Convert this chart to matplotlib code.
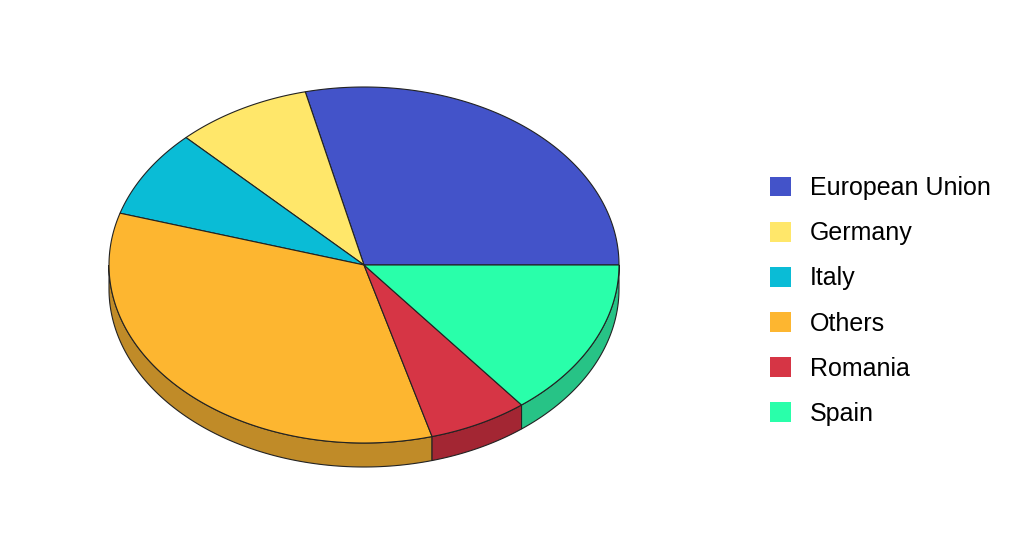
import numpy as np
import matplotlib.pyplot as plt
from matplotlib.patches import Polygon, Patch

plt.rcParams['font.family'] = ['Liberation Sans', 'DejaVu Sans']

labels = ["European Union", "Germany", "Italy", "Others", "Romania", "Spain"]
shares = [28.7, 8.6, 8.0, 34.0, 6.3, 14.4]
top_colors = ["#4353C9", "#FFE76A", "#0ABCD6", "#FDB630", "#D63545", "#29FFAA"]
side_colors = ["#323E97", "#BFAD50", "#088DA0", "#C08B28", "#A32633", "#27C386"]

# ellipse geometry in pixels
cx, cy = 364, 265
rx, ry = 255, 178
depth = 24

fig = plt.figure(figsize=(10.23, 5.57), dpi=100)
ax = fig.add_axes([0, 0, 1, 1])
ax.set_xlim(0, 1023)
ax.set_ylim(557, 0)
ax.axis("off")

def edge(t):
    t = np.radians(t)
    return cx + rx * np.cos(t), cy - ry * np.sin(t)

fr = np.array(shares) / sum(shares)
bounds = np.concatenate([[0], np.cumsum(fr) * 360])

# side wall (only lower half is visible)
for i in range(len(labels)):
    a0 = max(bounds[i], 180)
    a1 = min(bounds[i + 1], 360)
    if a1 <= a0:
        continue
    t = np.linspace(a0, a1, 100)
    x, y = edge(t)
    xs = np.concatenate([x, x[::-1]])
    ys = np.concatenate([y, y[::-1] + depth])
    ax.add_patch(Polygon(np.column_stack([xs, ys]), closed=True,
                         facecolor=side_colors[i], edgecolor="#222222", lw=0.8))

# top face
for i in range(len(labels)):
    t = np.linspace(bounds[i], bounds[i + 1], 200)
    x, y = edge(t)
    xs = np.concatenate([[cx], x])
    ys = np.concatenate([[cy], y])
    ax.add_patch(Polygon(np.column_stack([xs, ys]), closed=True,
                         facecolor=top_colors[i], edgecolor="#222222", lw=0.8))

handles = [Patch(facecolor=c, edgecolor="none") for c in top_colors]
fig.legend(handles, labels, loc="center left", bbox_to_anchor=(757 / 1023, 1 - 301 / 557),
           frameon=False, fontsize=18, handlelength=0.84, handleheight=0.84,
           handletextpad=0.76, labelspacing=0.845, borderpad=0)

fig.savefig("out.png", dpi=100)
